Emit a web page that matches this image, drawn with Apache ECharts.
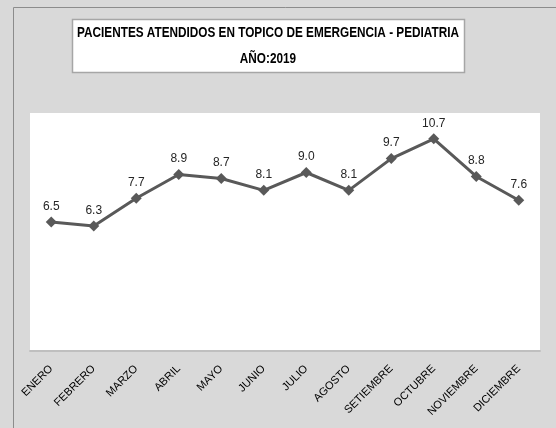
<!DOCTYPE html>
<html><head><meta charset="utf-8">
<script src="https://cdn.jsdelivr.net/npm/echarts@6/dist/echarts.min.js"></script>
<style>html,body{margin:0;padding:0;background:#d9d9d9}#c{width:556px;height:428px}</style>
</head><body><div id="c"></div>
<script>
const categories = ['ENERO','FEBRERO','MARZO','ABRIL','MAYO','JUNIO','JULIO','AGOSTO','SETIEMBRE','OCTUBRE','NOVIEMBRE','DICIEMBRE'];
const values = [6.5, 6.3, 7.7, 8.9, 8.7, 8.1, 9.0, 8.1, 9.7, 10.7, 8.8, 7.6];
const titleLines = ['PACIENTES ATENDIDOS EN TOPICO DE EMERGENCIA - PEDIATRIA', 'AÑO:2019'];
const font = "'Liberation Sans', Arial, sans-serif";
const chart = echarts.init(document.getElementById('c'));
chart.setOption({
  backgroundColor: '#d9d9d9',
  animation: false,
  graphic: [
    {type:'rect', shape:{x:13.5,y:7.5,width:600,height:500}, style:{fill:'none', stroke:'#8c8c8c', lineWidth:1}, z:-1},
    {type:'rect', shape:{x:72.5,y:19.5,width:392,height:53}, style:{fill:'#fff', stroke:'#a6a6a6', lineWidth:1.5}, z:-1},
    {type:'text', x:268, y:33, scaleX:0.785, z:10,
      style:{text:titleLines[0], font:'bold 15px ' + font, fill:'#000', textAlign:'center', textVerticalAlign:'middle'}},
    {type:'text', x:268, y:59, scaleX:0.785, z:10,
      style:{text:titleLines[1], font:'bold 15px ' + font, fill:'#000', textAlign:'center', textVerticalAlign:'middle'}}
  ],
  grid: {left: 30, right: 16, top: 113, bottom: 77, show: true, backgroundColor: '#fff', borderWidth: 0},
  xAxis: {
    type: 'category', data: categories, boundaryGap: true,
    axisLine: {show: true, lineStyle: {color: '#bfbfbf', width: 2}},
    axisTick: {show: false},
    axisLabel: {rotate: 45, interval: 0, fontFamily: font, fontSize: 11, color: '#000', margin: 16}
  },
  yAxis: {type: 'value', min: 0, max: 12, show: false, splitLine: {show: false}},
  series: [{
    type: 'line', data: values,
    symbol: 'diamond', symbolSize: 11,
    lineStyle: {color: '#595959', width: 3},
    itemStyle: {color: '#595959'},
    label: {show: true, position: 'top', distance: 4, formatter: p => p.value.toFixed(1),
      fontFamily: font, fontSize: 12, color: '#262626'}
  }]
});
</script></body></html>
